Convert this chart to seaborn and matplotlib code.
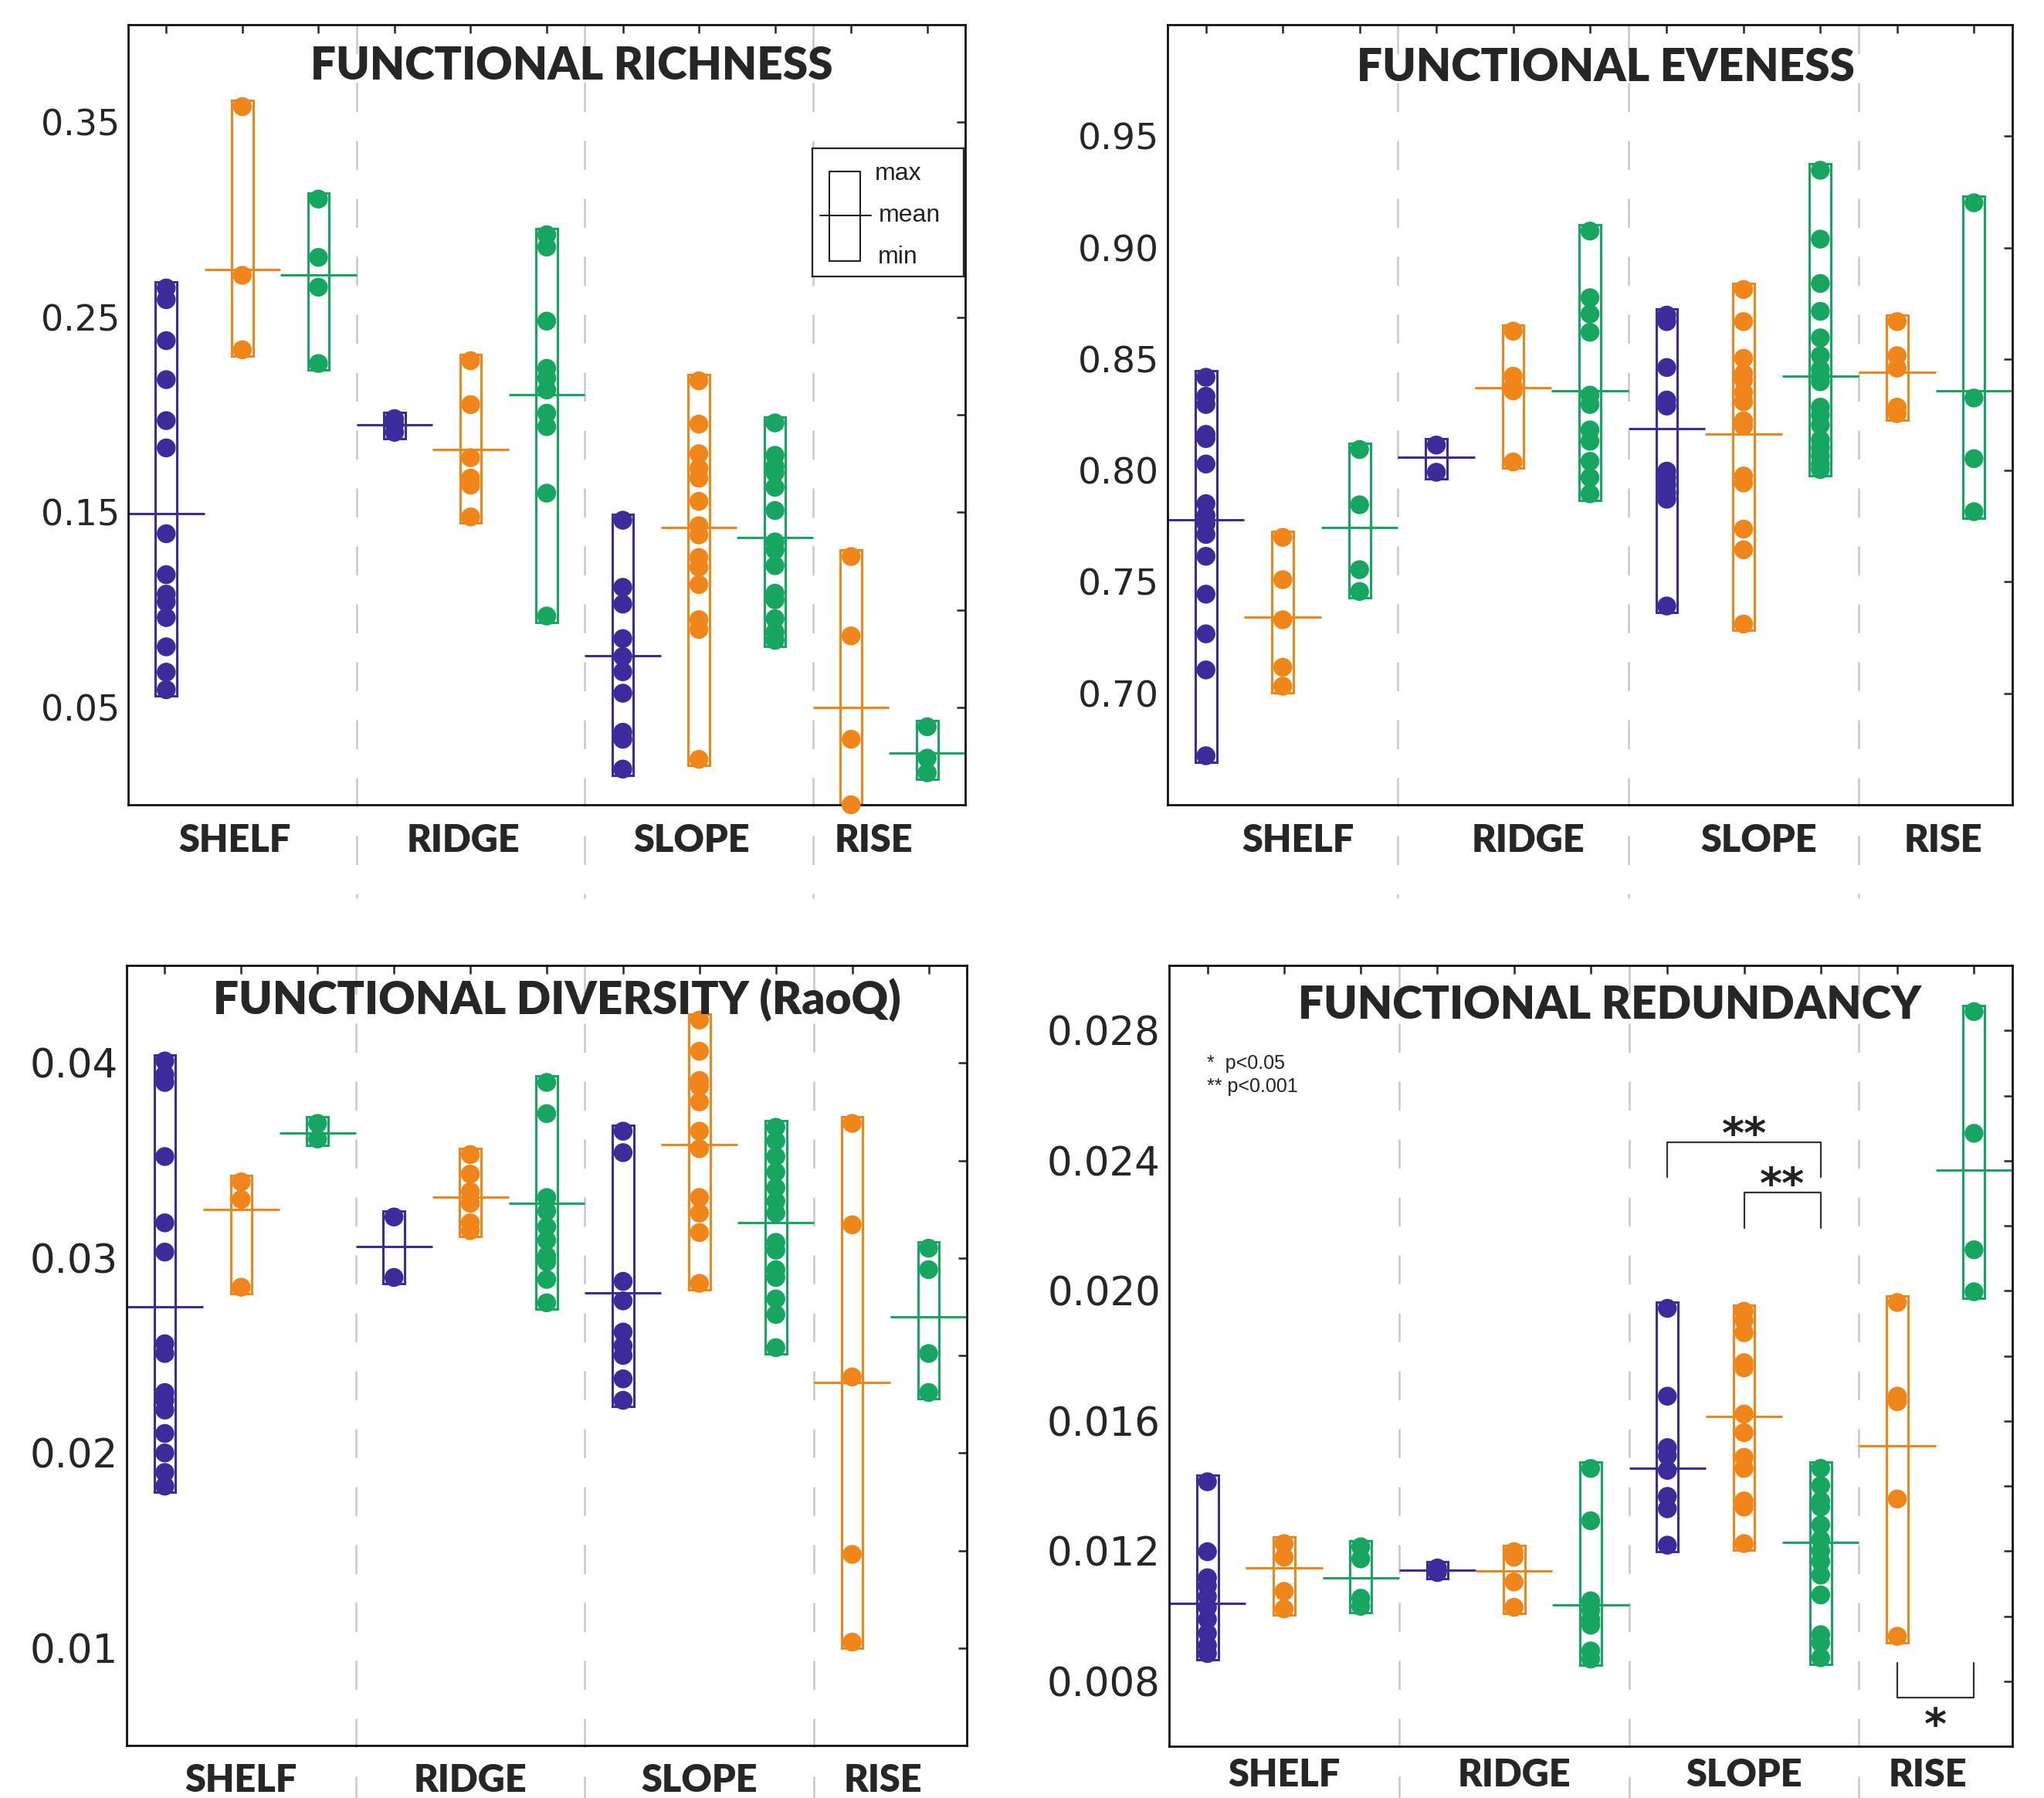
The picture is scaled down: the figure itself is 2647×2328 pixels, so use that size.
import numpy as np
import pandas as pd
import matplotlib
matplotlib.use("Agg")
import matplotlib.pyplot as plt
import seaborn as sns

# positions 1..11: SHELF (P,O,G), RIDGE (P,O,G), SLOPE (P,O,G), RISE (O,G)
regions = ["SHELF", "RIDGE", "SLOPE", "RISE"]
groups = ["P", "O", "G", "P", "O", "G", "P", "O", "G", "O", "G"]
palette = {"P": "#3b2b9b", "O": "#f08519", "G": "#17a660"}

# Functional richness
rich_pts = [
    [0.265, 0.259, 0.238, 0.218, 0.197, 0.183, 0.139, 0.118, 0.108, 0.104, 0.096, 0.081, 0.068, 0.059],
    [0.358, 0.2715, 0.2333],
    [0.3106, 0.2807, 0.2654, 0.2263],
    [0.198, 0.195, 0.191],
    [0.2277, 0.2052, 0.178, 0.1675, 0.1639, 0.1476],
    [0.2923, 0.286, 0.248, 0.2238, 0.2188, 0.2127, 0.2008, 0.1939, 0.1598, 0.0968],
    [0.1459, 0.1115, 0.1029, 0.0852, 0.076, 0.0682, 0.0572, 0.0372, 0.0336, 0.0183],
    [0.2174, 0.1952, 0.18, 0.1725, 0.1675, 0.1556, 0.1431, 0.1384, 0.1268, 0.1218, 0.1129, 0.0949, 0.0899, 0.0233],
    [0.1958, 0.1792, 0.1736, 0.1703, 0.1628, 0.1509, 0.1348, 0.1306, 0.1226, 0.1085, 0.1051, 0.0954, 0.0885, 0.0843],
    [0.1273, 0.0866, 0.0336, 0.0],
    [0.0400, 0.0239, 0.0164],
]
rich_mean = [0.1495, 0.2746, 0.2715, 0.1947, 0.1822, 0.2102, 0.0766, 0.142, 0.137, 0.050, 0.0267]

# Functional eveness
even_pts = [
    [0.8418, 0.8333, 0.8296, 0.8162, 0.8143, 0.8029, 0.7851, 0.7798, 0.7761, 0.7713, 0.7615, 0.7445, 0.7267, 0.7105, 0.672],
    [0.770, 0.751, 0.733, 0.7117, 0.7032],
    [0.8094, 0.7846, 0.7555, 0.7457],
    [0.8114, 0.7992],
    [0.8625, 0.8423, 0.8377, 0.8357, 0.8038],
    [0.9074, 0.8775, 0.8702, 0.862, 0.8338, 0.8296, 0.8182, 0.8131, 0.8041, 0.7968, 0.7895],
    [0.8697, 0.8668, 0.8462, 0.8316, 0.8289, 0.7997, 0.7968, 0.7936, 0.79, 0.7871, 0.7392],
    [0.8812, 0.8668, 0.8503, 0.8435, 0.8406, 0.835, 0.8308, 0.8223, 0.8199, 0.7975, 0.7944, 0.7737, 0.7644, 0.7311],
    [0.9347, 0.9038, 0.8839, 0.8714, 0.8595, 0.8515, 0.8454, 0.8423, 0.8398, 0.8284, 0.8248, 0.8204, 0.8138, 0.8102, 0.8065, 0.8029, 0.8004],
    [0.8668, 0.8515, 0.8459, 0.8284, 0.8255],
    [0.9201, 0.8325, 0.8053, 0.7815],
]
even_mean = [0.778, 0.7343, 0.7744, 0.8058, 0.8372, 0.8357, 0.8187, 0.8162, 0.8423, 0.8442, 0.8357]

# Functional diversity (RaoQ)
rao_pts = [
    [0.0401, 0.0394, 0.039, 0.0352, 0.0318, 0.0303, 0.0256, 0.0251, 0.0231, 0.0227, 0.0222, 0.021, 0.0200, 0.019, 0.0183],
    [0.0339, 0.033, 0.0285],
    [0.0369, 0.0361],
    [0.0321, 0.029],
    [0.0353, 0.0343, 0.0334, 0.0328, 0.0318, 0.0314],
    [0.039, 0.0374, 0.0331, 0.0324, 0.0316, 0.0309, 0.0301, 0.0298, 0.0289, 0.0277],
    [0.0365, 0.0354, 0.0288, 0.0278, 0.0262, 0.0255, 0.025, 0.0238, 0.0227],
    [0.0422, 0.0406, 0.0391, 0.0388, 0.038, 0.0365, 0.0356, 0.0331, 0.0323, 0.0313, 0.0287],
    [0.0367, 0.036, 0.0352, 0.0344, 0.0336, 0.0329, 0.0323, 0.0308, 0.0304, 0.0294, 0.029, 0.0279, 0.0271, 0.0254],
    [0.0369, 0.0317, 0.0239, 0.0148, 0.0103],
    [0.0305, 0.0294, 0.0251, 0.0231],
]
rao_mean = [0.0275, 0.0325, 0.0364, 0.0306, 0.0331, 0.0328, 0.0282, 0.0358, 0.0318, 0.0236, 0.027]

# Functional redundancy
red_pts = [
    [0.01413, 0.01198, 0.01118, 0.01093, 0.0106, 0.01027, 0.0099, 0.00947, 0.0091, 0.00885],
    [0.01223, 0.01181, 0.01076, 0.01022],
    [0.01213, 0.01176, 0.01055, 0.0103],
    [0.01148, 0.01134],
    [0.01198, 0.01181, 0.01105, 0.01027],
    [0.01454, 0.01293, 0.01047, 0.01018, 0.0099, 0.00972, 0.00893, 0.00868],
    [0.01946, 0.01676, 0.01518, 0.01493, 0.01448, 0.01368, 0.0133, 0.01218],
    [0.01937, 0.01909, 0.01871, 0.01779, 0.01763, 0.01621, 0.01564, 0.01488, 0.01454, 0.01354, 0.01335, 0.01223],
    [0.01454, 0.01401, 0.01354, 0.01335, 0.0128, 0.01235, 0.01201, 0.01168, 0.01126, 0.01065, 0.00943, 0.00918, 0.00872],
    [0.01964, 0.01676, 0.01659, 0.0136, 0.00938],
    [0.02858, 0.02484, 0.02126, 0.01997],
]
red_mean = [0.01038, 0.01148, 0.01118, 0.01141, 0.01138, 0.01035, 0.01454, 0.01614, 0.01226, 0.01523, 0.0237]

# significance brackets on the redundancy panel: (x1, x2, y_bar, y_leg, label)
brackets = [(7, 9, 0.02456, 0.0235, "**"), (8, 9, 0.02302, 0.02193, "**"), (10, 11, 0.00749, 0.00856, "*")]

W, H = 2647, 2328
sns.set_style("white")
plt.rcParams["font.family"] = ["DejaVu Sans"]
fig = plt.figure(figsize=(W / 100, H / 100), dpi=100)


def px_axes(l, t, w, h):
    return fig.add_axes([l / W, 1 - (t + h) / H, w / W, h / H])


def make_panel(ax, pts, means, title, ylim, ticks, labels, tfs, title_xy, cat_shift, cat_y):
    pos = np.arange(1, len(pts) + 1)
    df = pd.DataFrame([(p, g, v) for p, g, vals in zip(pos, groups, pts) for v in vals],
                      columns=["pos", "grp", "val"])
    cols = [palette[g] for g in groups]
    lo = np.array([min(v) for v in pts])
    hi = np.array([max(v) for v in pts])
    pad = 0.008 * (ylim[1] - ylim[0])
    ax.bar(pos, hi - lo + 2 * pad, bottom=lo - pad, width=0.28, fill=False,
           edgecolor=cols, linewidth=2.2, zorder=2)
    ax.hlines(means, pos - 0.5, pos + 0.5, colors=cols, linewidth=2.2, zorder=2)
    sns.scatterplot(data=df, x="pos", y="val", hue="grp", palette=palette, s=310,
                    linewidth=0, legend=False, ax=ax, zorder=3, clip_on=False)
    for xs in [3.5, 6.5, 9.5]:
        ax.plot([xs, xs], [1, -0.12], transform=ax.get_xaxis_transform(), clip_on=False,
                color="#c8c8c8", lw=1.8, ls=(0, (15, 15)), zorder=0)
    ax.set_xlim(0.5, 11.5)
    ax.set_ylim(*ylim)
    ax.set_xticks(pos)
    ax.set_xticklabels([])
    ax.set_yticks(ticks)
    ax.set_yticklabels(labels, fontsize=tfs)
    ax.set_xlabel("")
    ax.set_ylabel("")
    ax.tick_params(direction="in", length=8, width=1.8, top=True, right=True, pad=8)
    for s in ax.spines.values():
        s.set_linewidth(2.0)
        s.set_color("#111111")
    ax.text(title_xy[0], title_xy[1], title, transform=ax.transAxes, ha="center", va="center",
            fontsize=42, fontweight="heavy", family="Lato")
    for name, xc in zip(regions, [2, 5, 8, 10.4]):
        ax.text(xc + cat_shift, cat_y, name, transform=ax.get_xaxis_transform(), ha="center",
                va="center", fontsize=35, fontweight="heavy", family="Lato")


ax1 = px_axes(166, 32, 1084, 1010)
make_panel(ax1, rich_pts, rich_mean, "FUNCTIONAL RICHNESS", (0, 0.4),
           np.arange(0.05, 0.351, 0.05), ["0.05", "", "0.15", "", "0.25", "", "0.35"],
           33, (0.53, 0.947), -0.1, -0.046)

ax2 = px_axes(1512, 32, 1094, 1010)
make_panel(ax2, even_pts, even_mean, "FUNCTIONAL EVENESS", (0.65, 1.0),
           np.arange(0.70, 0.951, 0.05), ["0.70", "0.75", "0.80", "0.85", "0.90", "0.95"],
           34, (0.519, 0.945), 0.2, -0.046)

ax3 = px_axes(164, 1250, 1088, 1010)
make_panel(ax3, rao_pts, rao_mean, "FUNCTIONAL DIVERSITY (RaoQ)", (0.005, 0.045),
           np.arange(0.01, 0.0401, 0.005), ["0.01", "", "0.02", "", "0.03", "", "0.04"],
           37, (0.512, 0.956), 0.0, -0.045)

ax4 = px_axes(1514, 1250, 1092, 1011)
make_panel(ax4, red_pts, red_mean, "FUNCTIONAL REDUNDANCY", (0.006, 0.030),
           np.arange(0.008, 0.0281, 0.002),
           ["0.008", "", "0.012", "", "0.016", "", "0.020", "", "0.024", "", "0.028"],
           37, (0.522, 0.949), 0.0, -0.037)

# significance brackets and key
for x1, x2, yb, yl, lab in brackets:
    ax4.plot([x1, x1, x2, x2], [yl, yb, yb, yl], color="#333333", lw=1.6, zorder=4)
    if yb > yl:
        ax4.text((x1 + x2) / 2, yb + 0.0002, lab, ha="center", va="center", fontsize=40,
                 fontweight="bold", color="#222222")
    else:
        ax4.text((x1 + x2) / 2, yb - 0.0009, lab, ha="center", va="center", fontsize=40,
                 fontweight="bold", color="#222222")
ax4.text(0.045, 0.874, "*  p<0.05", transform=ax4.transAxes, ha="left", va="center",
         fontsize=18, family="Liberation Sans", color="#222222")
ax4.text(0.045, 0.845, "** p<0.001", transform=ax4.transAxes, ha="left", va="center",
         fontsize=18, family="Liberation Sans", color="#222222")

# max / mean / min key in the richness panel
lg = px_axes(1052, 192, 196, 166)
lg.set_xlim(0, 1)
lg.set_ylim(0, 1)
lg.set_xticks([])
lg.set_yticks([])
for s in lg.spines.values():
    s.set_linewidth(1.6)
    s.set_color("#222222")
lg.plot([0.112, 0.316, 0.316, 0.112, 0.112], [0.12, 0.12, 0.819, 0.819, 0.12], color="#222222", lw=1.5)
lg.plot([0.05, 0.388], [0.476, 0.476], color="#222222", lw=1.5)
for txt, xx, yy in [("max", 0.413, 0.80), ("mean", 0.439, 0.476), ("min", 0.434, 0.15)]:
    lg.text(xx, yy, txt, ha="left", va="center", fontsize=23, family="Liberation Sans", color="#222222")

fig.savefig("out.png", dpi=100, facecolor="white")
